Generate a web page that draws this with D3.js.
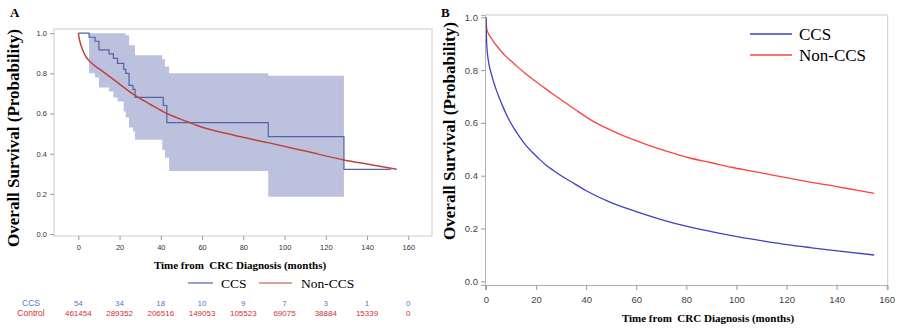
<!DOCTYPE html>
<meta charset="utf-8">
<title>Overall survival CCS vs Non-CCS</title>
<script src="https://d3js.org/d3.v7.min.js"></script>
<style>
  body { margin: 0; background: #fff; }
  text { font-family: "Liberation Sans", Arial, sans-serif; }
  text.serif { font-family: "Liberation Serif", "Times New Roman", serif; }
  text.ytitle, text.xtitle, text.panel { font-family: "Liberation Serif", "Times New Roman", serif; font-weight: bold; }
  .tickA text { font-size: 7.5px; fill: #333; }
  .tickB text { font-size: 9.5px; fill: #444; }
  .tickA line, .tickB line { stroke: #999; }
</style>
<div id="chart"></div>
<script>
// ---- Panel A: Kaplan-Meier, CCS with 95% CI band, Non-CCS ----
var ccsTimes = [0, 5.2, 8.1, 10, 14.9, 17, 19, 22, 23, 24.6, 26.5, 27.5, 41.2, 42.9, 92.1, 128.8];
var ccsSurv  = [1.0, 0.98, 0.96, 0.917, 0.897, 0.875, 0.85, 0.82, 0.8, 0.74, 0.72, 0.68, 0.64, 0.555, 0.485, 0.322];
var ccsEnd = 151.5;

var bandTimes = [5.2, 8.1, 10, 14.9, 17, 19, 22, 23, 24.6, 26.5, 27.5, 40.7, 42, 44, 92.1];
var bandUpper = [1, 1, 1, 1, 1, 1, 1, 0.99, 0.94, 0.94, 0.89, 0.87, 0.834, 0.8, 0.788];
var bandLower = [0.80, 0.78, 0.73, 0.71, 0.68, 0.66, 0.61, 0.58, 0.53, 0.51, 0.47, 0.42, 0.38, 0.314, 0.186];
var bandEnd = 128.8;

var nonTimesA = [0, 0.5, 1, 2, 3.3, 6, 10.5, 17, 27.5, 35, 42.9, 54, 59, 75, 92, 110, 128.8, 142, 154.4];
var nonSurvA  = [1.0, 0.97, 0.95, 0.92, 0.89, 0.855, 0.82, 0.77, 0.69, 0.645, 0.6, 0.555, 0.535, 0.493, 0.455, 0.413, 0.369, 0.345, 0.322];

// numbers at risk
var riskTimes = [0, 20, 40, 60, 80, 100, 120, 140, 160];
var riskCCS = ["54", "34", "18", "10", "9", "7", "3", "1", "0"];
var riskControl = ["461454", "289352", "206516", "149053", "105523", "69075", "38884", "15339", "0"];

// ---- Panel B: adjusted survival curves ----
var ccsTimesB = [0, 0.3, 1, 2, 3, 4, 5, 6, 7, 8, 9.3, 11, 13, 16.2, 19, 21.6, 24, 26.9, 30, 34, 40, 49.5, 60, 70, 80.3, 90, 100.3, 110, 120.3, 130, 140.3, 155];
var ccsSurvB  = [1, 0.895, 0.832, 0.79, 0.757, 0.728, 0.702, 0.678, 0.656, 0.635, 0.61, 0.582, 0.553, 0.512, 0.484, 0.46, 0.44, 0.42, 0.40, 0.377, 0.343, 0.30, 0.264, 0.234, 0.208, 0.188, 0.169, 0.154, 0.139, 0.127, 0.115, 0.0996];
var nonTimesB = [0, 0.3, 1, 2, 3, 4, 6, 8, 10, 12.3, 15, 18, 22, 26, 30, 36, 43, 50, 57, 65, 73, 81, 89.6, 98, 106.9, 115, 123, 131, 140, 148, 155];
var nonSurvB  = [1, 0.955, 0.938, 0.922, 0.908, 0.895, 0.872, 0.851, 0.835, 0.815, 0.793, 0.77, 0.742, 0.714, 0.688, 0.648, 0.605, 0.572, 0.543, 0.515, 0.49, 0.468, 0.45, 0.432, 0.416, 0.401, 0.387, 0.373, 0.359, 0.345, 0.333];

var xTicks = [0, 20, 40, 60, 80, 100, 120, 140, 160];
var yTicks = [0, 0.2, 0.4, 0.6, 0.8, 1.0];

var svg = d3.select("#chart").append("svg")
    .attr("width", 900).attr("height", 329);

function zip(t, s) { return t.map(function(d, i) { return {t: d, s: s[i]}; }); }

// ================= Panel A =================
var xA = d3.scaleLinear().domain([-11.8, 171.5]).range([54, 432]);
var yA = d3.scaleLinear().domain([-0.01, 1.021]).range([236, 29]);

var bandData = zip(bandTimes, bandUpper).map(function(d, i) { return {t: d.t, hi: d.s, lo: bandLower[i]}; });
bandData.push({t: bandEnd, hi: bandUpper[bandUpper.length - 1], lo: bandLower[bandLower.length - 1]});

svg.append("path")
    .datum(bandData)
    .attr("fill", "#bcc2de")
    .attr("d", d3.area().curve(d3.curveStepAfter)
        .x(function(d) { return xA(d.t); })
        .y0(function(d) { return yA(d.lo); })
        .y1(function(d) { return yA(d.hi); }));

var ccsA = zip(ccsTimes, ccsSurv);
ccsA.push({t: ccsEnd, s: ccsSurv[ccsSurv.length - 1]});
svg.append("path")
    .datum(ccsA)
    .attr("fill", "none").attr("stroke", "#5263a8").attr("stroke-width", 1.2)
    .attr("d", d3.line().curve(d3.curveStepAfter)
        .x(function(d) { return xA(d.t); }).y(function(d) { return yA(d.s); }));

svg.append("path")
    .datum(zip(nonTimesA, nonSurvA))
    .attr("fill", "none").attr("stroke", "#c0433a").attr("stroke-width", 1.5)
    .attr("d", d3.line().curve(d3.curveMonotoneX)
        .x(function(d) { return xA(d.t); }).y(function(d) { return yA(d.s); }));

svg.append("rect")
    .attr("x", 54).attr("y", 29).attr("width", 432 - 54).attr("height", 236 - 29)
    .attr("fill", "none").attr("stroke", "#cccccc");

svg.append("g").attr("class", "tickA")
    .attr("transform", "translate(54,0)")
    .call(d3.axisLeft(yA).tickValues(yTicks).tickFormat(d3.format(".1f")).tickSize(4).tickPadding(3))
    .call(function(g) { g.select(".domain").remove(); });

svg.append("g").attr("class", "tickA")
    .attr("transform", "translate(0,236)")
    .call(d3.axisBottom(xA).tickValues(xTicks).tickFormat(d3.format("d")).tickSize(4).tickPadding(5))
    .call(function(g) { g.select(".domain").remove(); });

svg.append("text").attr("class", "panel").attr("x", 10).attr("y", 17)
    .style("font-size", "13px").text("A");

svg.append("text").attr("class", "ytitle")
    .attr("transform", "translate(19,138) rotate(-90)")
    .attr("text-anchor", "middle").style("font-size", "17px")
    .text("Overall Survival (Probability)");

svg.append("text").attr("class", "xtitle")
    .attr("x", 240).attr("y", 268.5).attr("text-anchor", "middle")
    .style("font-size", "11px").style("white-space", "pre")
    .text("Time from  CRC Diagnosis (months)");

// legend A
var legA = [{name: "CCS", color: "#5263a8", x1: 188, x2: 213, tx: 221},
            {name: "Non-CCS", color: "#c0433a", x1: 259, x2: 292, tx: 301}];
legA.forEach(function(d) {
    svg.append("line").attr("x1", d.x1).attr("x2", d.x2).attr("y1", 283).attr("y2", 283)
        .attr("stroke", d.color).attr("stroke-width", 1.2);
    svg.append("text").attr("class", "serif").attr("x", d.tx).attr("y", 287.5)
        .style("font-size", "13.5px").text(d.name);
});

// risk table
svg.append("text").attr("x", 31).attr("y", 305.5).attr("text-anchor", "middle")
    .style("font-size", "8.5px").attr("fill", "#4a7cc8").text("CCS");
svg.append("text").attr("x", 31).attr("y", 315.5).attr("text-anchor", "middle")
    .style("font-size", "8.5px").attr("fill", "#cc3333").text("Control");
svg.selectAll("text.riskCCS").data(riskTimes).enter().append("text")
    .attr("class", "riskCCS").attr("x", function(d) { return xA(d); }).attr("y", 305.5)
    .attr("text-anchor", "middle").style("font-size", "8px").attr("fill", "#4a7cc8")
    .text(function(d, i) { return riskCCS[i]; });
svg.selectAll("text.riskCtl").data(riskTimes).enter().append("text")
    .attr("class", "riskCtl").attr("x", function(d) { return xA(d); }).attr("y", 315.5)
    .attr("text-anchor", "middle").style("font-size", "8px").attr("fill", "#cc3333")
    .text(function(d, i) { return riskControl[i]; });

// ================= Panel B =================
var xB = d3.scaleLinear().domain([-0.4, 160.4]).range([485, 887.7]);
var yB = d3.scaleLinear().domain([-0.014, 1.0087]).range([285, 15]);

svg.append("path")
    .attr("d", "M485,15H887.7V285")
    .attr("fill", "none").attr("stroke", "#cccccc");

svg.append("path")
    .datum(zip(nonTimesB, nonSurvB))
    .attr("fill", "none").attr("stroke", "#ff4040").attr("stroke-width", 1.3)
    .attr("d", d3.line().curve(d3.curveMonotoneX)
        .x(function(d) { return xB(d.t); }).y(function(d) { return yB(d.s); }));

svg.append("path")
    .datum(zip(ccsTimesB, ccsSurvB))
    .attr("fill", "none").attr("stroke", "#4040c4").attr("stroke-width", 1.3)
    .attr("d", d3.line().curve(d3.curveMonotoneX)
        .x(function(d) { return xB(d.t); }).y(function(d) { return yB(d.s); }));

svg.append("g").attr("class", "tickB")
    .attr("transform", "translate(485,0)")
    .call(d3.axisLeft(yB).tickValues(yTicks).tickFormat(d3.format(".1f")).tickSize(4).tickPadding(3))
    .call(function(g) { g.select(".domain").attr("stroke", "#b0b0b0"); });

svg.append("g").attr("class", "tickB")
    .attr("transform", "translate(0,285)")
    .call(d3.axisBottom(xB).tickValues(xTicks).tickFormat(d3.format("d")).tickSize(5).tickPadding(6))
    .call(function(g) { g.select(".domain").attr("stroke", "#b0b0b0"); });

svg.append("text").attr("class", "panel").attr("x", 441).attr("y", 17)
    .style("font-size", "13px").text("B");

svg.append("text").attr("class", "ytitle")
    .attr("transform", "translate(455,131) rotate(-90)")
    .attr("text-anchor", "middle").style("font-size", "17px")
    .text("Overall Survival (Probability)");

svg.append("text").attr("class", "xtitle")
    .attr("x", 708).attr("y", 322).attr("text-anchor", "middle")
    .style("font-size", "11px").style("white-space", "pre")
    .text("Time from  CRC Diagnosis (months)");

// legend B
var legB = [{name: "CCS", color: "#4040c4", y: 34},
            {name: "Non-CCS", color: "#ff4040", y: 55}];
legB.forEach(function(d) {
    svg.append("line").attr("x1", 750).attr("x2", 792).attr("y1", d.y).attr("y2", d.y)
        .attr("stroke", d.color).attr("stroke-width", 1.3);
    svg.append("text").attr("class", "serif").attr("x", 799).attr("y", d.y + 6)
        .style("font-size", "17px").text(d.name);
});
</script>
